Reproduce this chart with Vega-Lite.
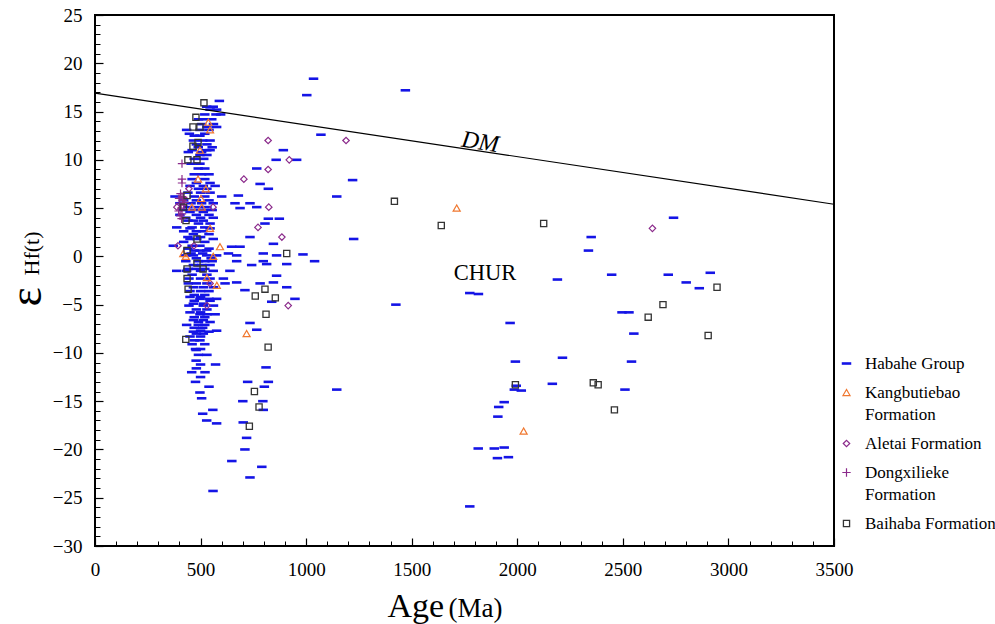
{
  "$schema": "https://vega.github.io/schema/vega-lite/v6.json",
  "width": 739,
  "height": 531,
  "autosize": {"type": "none"},
  "padding": {"left": 95, "top": 15, "right": 161, "bottom": 78},
  "background": "white",
  "config": {
    "font": "Liberation Serif",
    "view": {"stroke": "#000", "strokeWidth": 2},
    "style": {"guide-label": {"lineHeight": 22, "font": "Liberation Serif"}, "guide-title": {"font": "Liberation Serif"}},
    "axis": {"grid": false, "domain": false, "tickColor": "#000", "labelColor": "#000", "titleColor": "#000", "labelFont": "Liberation Serif", "titleFont": "Liberation Serif", "titleFontWeight": "normal"}
  },
  "resolve": {"axis": {"x": "independent", "y": "independent"}},
  "layer": [
    {
      "data": {"values": [
        {"formation":"Habahe Group","age":589,"eps":16.1},{"formation":"Habahe Group","age":529,"eps":15.5},{"formation":"Habahe Group","age":560,"eps":15.5},
        {"formation":"Habahe Group","age":576,"eps":15.2},{"formation":"Habahe Group","age":545,"eps":15.2},{"formation":"Habahe Group","age":573,"eps":14.7},
        {"formation":"Habahe Group","age":595,"eps":14.7},{"formation":"Habahe Group","age":520,"eps":14.7},{"formation":"Habahe Group","age":513,"eps":14.2},
        {"formation":"Habahe Group","age":553,"eps":14.2},{"formation":"Habahe Group","age":490,"eps":14.2},{"formation":"Habahe Group","age":561,"eps":13.7},
        {"formation":"Habahe Group","age":505,"eps":13.7},{"formation":"Habahe Group","age":576,"eps":13.4},{"formation":"Habahe Group","age":530,"eps":13.4},
        {"formation":"Habahe Group","age":434,"eps":13.1},{"formation":"Habahe Group","age":497,"eps":13.1},{"formation":"Habahe Group","age":540,"eps":13.1},
        {"formation":"Habahe Group","age":447,"eps":12.7},{"formation":"Habahe Group","age":520,"eps":12.7},{"formation":"Habahe Group","age":497,"eps":12.5},
        {"formation":"Habahe Group","age":470,"eps":12.5},{"formation":"Habahe Group","age":466,"eps":12.0},{"formation":"Habahe Group","age":510,"eps":12.0},
        {"formation":"Habahe Group","age":545,"eps":12.0},{"formation":"Habahe Group","age":480,"eps":11.6},{"formation":"Habahe Group","age":530,"eps":11.6},
        {"formation":"Habahe Group","age":489,"eps":11.3},{"formation":"Habahe Group","age":555,"eps":11.3},{"formation":"Habahe Group","age":529,"eps":11.0},
        {"formation":"Habahe Group","age":545,"eps":11.0},{"formation":"Habahe Group","age":460,"eps":11.0},{"formation":"Habahe Group","age":442,"eps":10.8},
        {"formation":"Habahe Group","age":505,"eps":10.8},{"formation":"Habahe Group","age":497,"eps":10.5},{"formation":"Habahe Group","age":530,"eps":10.5},
        {"formation":"Habahe Group","age":470,"eps":10.1},{"formation":"Habahe Group","age":515,"eps":10.1},{"formation":"Habahe Group","age":497,"eps":9.6},
        {"formation":"Habahe Group","age":455,"eps":9.6},{"formation":"Habahe Group","age":489,"eps":9.1},{"formation":"Habahe Group","age":520,"eps":9.1},
        {"formation":"Habahe Group","age":505,"eps":8.5},{"formation":"Habahe Group","age":470,"eps":8.5},{"formation":"Habahe Group","age":540,"eps":8.5},
        {"formation":"Habahe Group","age":460,"eps":8.0},{"formation":"Habahe Group","age":520,"eps":8.0},{"formation":"Habahe Group","age":480,"eps":7.6},
        {"formation":"Habahe Group","age":545,"eps":7.6},{"formation":"Habahe Group","age":513,"eps":7.3},{"formation":"Habahe Group","age":569,"eps":7.3},
        {"formation":"Habahe Group","age":450,"eps":7.3},{"formation":"Habahe Group","age":490,"eps":7.0},{"formation":"Habahe Group","age":530,"eps":7.0},
        {"formation":"Habahe Group","age":440,"eps":6.6},{"formation":"Habahe Group","age":500,"eps":6.6},{"formation":"Habahe Group","age":545,"eps":6.6},
        {"formation":"Habahe Group","age":379,"eps":6.2},{"formation":"Habahe Group","age":470,"eps":6.2},{"formation":"Habahe Group","age":520,"eps":6.2},
        {"formation":"Habahe Group","age":600,"eps":6.2},{"formation":"Habahe Group","age":420,"eps":5.8},{"formation":"Habahe Group","age":480,"eps":5.8},
        {"formation":"Habahe Group","age":540,"eps":5.8},{"formation":"Habahe Group","age":402,"eps":5.5},{"formation":"Habahe Group","age":455,"eps":5.5},
        {"formation":"Habahe Group","age":505,"eps":5.5},{"formation":"Habahe Group","age":560,"eps":5.5},{"formation":"Habahe Group","age":440,"eps":5.1},
        {"formation":"Habahe Group","age":490,"eps":5.1},{"formation":"Habahe Group","age":530,"eps":5.1},{"formation":"Habahe Group","age":420,"eps":4.8},
        {"formation":"Habahe Group","age":470,"eps":4.8},{"formation":"Habahe Group","age":515,"eps":4.8},{"formation":"Habahe Group","age":555,"eps":4.8},
        {"formation":"Habahe Group","age":513,"eps":4.6},{"formation":"Habahe Group","age":450,"eps":4.6},{"formation":"Habahe Group","age":402,"eps":4.3},
        {"formation":"Habahe Group","age":480,"eps":4.3},{"formation":"Habahe Group","age":540,"eps":4.3},{"formation":"Habahe Group","age":430,"eps":4.0},
        {"formation":"Habahe Group","age":500,"eps":4.0},{"formation":"Habahe Group","age":560,"eps":4.0},{"formation":"Habahe Group","age":466,"eps":3.7},
        {"formation":"Habahe Group","age":513,"eps":3.7},{"formation":"Habahe Group","age":440,"eps":3.7},{"formation":"Habahe Group","age":490,"eps":3.4},
        {"formation":"Habahe Group","age":545,"eps":3.4},{"formation":"Habahe Group","age":387,"eps":3.0},{"formation":"Habahe Group","age":460,"eps":3.0},
        {"formation":"Habahe Group","age":520,"eps":3.0},{"formation":"Habahe Group","age":450,"eps":2.9},{"formation":"Habahe Group","age":545,"eps":2.9},
        {"formation":"Habahe Group","age":480,"eps":2.6},{"formation":"Habahe Group","age":510,"eps":2.6},{"formation":"Habahe Group","age":420,"eps":2.6},
        {"formation":"Habahe Group","age":466,"eps":2.3},{"formation":"Habahe Group","age":540,"eps":2.3},{"formation":"Habahe Group","age":440,"eps":2.0},
        {"formation":"Habahe Group","age":500,"eps":2.0},{"formation":"Habahe Group","age":450,"eps":1.8},{"formation":"Habahe Group","age":482,"eps":1.8},
        {"formation":"Habahe Group","age":560,"eps":1.8},{"formation":"Habahe Group","age":420,"eps":1.5},{"formation":"Habahe Group","age":520,"eps":1.5},
        {"formation":"Habahe Group","age":371,"eps":1.1},{"formation":"Habahe Group","age":497,"eps":1.1},{"formation":"Habahe Group","age":460,"eps":1.1},
        {"formation":"Habahe Group","age":440,"eps":0.8},{"formation":"Habahe Group","age":540,"eps":0.8},{"formation":"Habahe Group","age":497,"eps":0.6},
        {"formation":"Habahe Group","age":529,"eps":0.6},{"formation":"Habahe Group","age":470,"eps":0.6},{"formation":"Habahe Group","age":455,"eps":0.3},
        {"formation":"Habahe Group","age":510,"eps":0.3},{"formation":"Habahe Group","age":466,"eps":0.1},{"formation":"Habahe Group","age":529,"eps":0.1},
        {"formation":"Habahe Group","age":576,"eps":0.1},{"formation":"Habahe Group","age":430,"eps":0.1},{"formation":"Habahe Group","age":480,"eps":-0.2},
        {"formation":"Habahe Group","age":550,"eps":-0.2},{"formation":"Habahe Group","age":430,"eps":-0.5},{"formation":"Habahe Group","age":490,"eps":-0.5},
        {"formation":"Habahe Group","age":520,"eps":-0.5},{"formation":"Habahe Group","age":555,"eps":-0.5},{"formation":"Habahe Group","age":466,"eps":-0.9},
        {"formation":"Habahe Group","age":505,"eps":-0.9},{"formation":"Habahe Group","age":545,"eps":-0.9},{"formation":"Habahe Group","age":440,"eps":-1.3},
        {"formation":"Habahe Group","age":480,"eps":-1.3},{"formation":"Habahe Group","age":520,"eps":-1.3},{"formation":"Habahe Group","age":387,"eps":-1.5},
        {"formation":"Habahe Group","age":434,"eps":-1.5},{"formation":"Habahe Group","age":500,"eps":-1.5},{"formation":"Habahe Group","age":560,"eps":-1.5},
        {"formation":"Habahe Group","age":460,"eps":-1.9},{"formation":"Habahe Group","age":530,"eps":-1.9},{"formation":"Habahe Group","age":445,"eps":-2.3},
        {"formation":"Habahe Group","age":500,"eps":-2.3},{"formation":"Habahe Group","age":545,"eps":-2.3},{"formation":"Habahe Group","age":442,"eps":-2.8},
        {"formation":"Habahe Group","age":480,"eps":-2.8},{"formation":"Habahe Group","age":530,"eps":-2.8},{"formation":"Habahe Group","age":466,"eps":-3.2},
        {"formation":"Habahe Group","age":513,"eps":-3.2},{"formation":"Habahe Group","age":561,"eps":-3.2},{"formation":"Habahe Group","age":450,"eps":-3.6},
        {"formation":"Habahe Group","age":500,"eps":-3.6},{"formation":"Habahe Group","age":540,"eps":-3.6},{"formation":"Habahe Group","age":470,"eps":-4.0},
        {"formation":"Habahe Group","age":520,"eps":-4.0},{"formation":"Habahe Group","age":450,"eps":-4.2},{"formation":"Habahe Group","age":500,"eps":-4.2},
        {"formation":"Habahe Group","age":497,"eps":-4.4},{"formation":"Habahe Group","age":576,"eps":-4.4},{"formation":"Habahe Group","age":540,"eps":-4.4},
        {"formation":"Habahe Group","age":545,"eps":-4.6},{"formation":"Habahe Group","age":470,"eps":-4.6},{"formation":"Habahe Group","age":466,"eps":-4.9},
        {"formation":"Habahe Group","age":513,"eps":-4.9},{"formation":"Habahe Group","age":513,"eps":-5.1},{"formation":"Habahe Group","age":561,"eps":-5.1},
        {"formation":"Habahe Group","age":445,"eps":-5.1},{"formation":"Habahe Group","age":480,"eps":-5.5},{"formation":"Habahe Group","age":530,"eps":-5.5},
        {"formation":"Habahe Group","age":450,"eps":-5.8},{"formation":"Habahe Group","age":500,"eps":-5.8},{"formation":"Habahe Group","age":497,"eps":-6.0},
        {"formation":"Habahe Group","age":569,"eps":-6.0},{"formation":"Habahe Group","age":530,"eps":-6.0},{"formation":"Habahe Group","age":470,"eps":-6.3},
        {"formation":"Habahe Group","age":520,"eps":-6.3},{"formation":"Habahe Group","age":466,"eps":-6.6},{"formation":"Habahe Group","age":513,"eps":-6.6},
        {"formation":"Habahe Group","age":545,"eps":-6.8},{"formation":"Habahe Group","age":490,"eps":-6.8},{"formation":"Habahe Group","age":434,"eps":-7.1},
        {"formation":"Habahe Group","age":489,"eps":-7.1},{"formation":"Habahe Group","age":520,"eps":-7.1},{"formation":"Habahe Group","age":470,"eps":-7.4},
        {"formation":"Habahe Group","age":510,"eps":-7.4},{"formation":"Habahe Group","age":576,"eps":-7.7},{"formation":"Habahe Group","age":500,"eps":-7.7},
        {"formation":"Habahe Group","age":466,"eps":-7.8},{"formation":"Habahe Group","age":540,"eps":-7.8},{"formation":"Habahe Group","age":513,"eps":-8.0},
        {"formation":"Habahe Group","age":480,"eps":-8.0},{"formation":"Habahe Group","age":450,"eps":-8.3},{"formation":"Habahe Group","age":500,"eps":-8.3},
        {"formation":"Habahe Group","age":497,"eps":-8.7},{"formation":"Habahe Group","age":470,"eps":-8.7},{"formation":"Habahe Group","age":520,"eps":-9.1},
        {"formation":"Habahe Group","age":460,"eps":-9.1},{"formation":"Habahe Group","age":476,"eps":-9.6},{"formation":"Habahe Group","age":500,"eps":-9.6},
        {"formation":"Habahe Group","age":479,"eps":-9.7},{"formation":"Habahe Group","age":490,"eps":-10.2},{"formation":"Habahe Group","age":530,"eps":-10.2},
        {"formation":"Habahe Group","age":479,"eps":-10.8},{"formation":"Habahe Group","age":571,"eps":-11.2},{"formation":"Habahe Group","age":500,"eps":-11.2},
        {"formation":"Habahe Group","age":480,"eps":-11.6},{"formation":"Habahe Group","age":458,"eps":-12.0},{"formation":"Habahe Group","age":521,"eps":-12.0},
        {"formation":"Habahe Group","age":500,"eps":-12.5},{"formation":"Habahe Group","age":476,"eps":-13.0},{"formation":"Habahe Group","age":540,"eps":-13.5},
        {"formation":"Habahe Group","age":497,"eps":-14.1},{"formation":"Habahe Group","age":505,"eps":-14.7},{"formation":"Habahe Group","age":558,"eps":-15.9},
        {"formation":"Habahe Group","age":510,"eps":-16.3},{"formation":"Habahe Group","age":529,"eps":-17.0},{"formation":"Habahe Group","age":576,"eps":-17.3},
        {"formation":"Habahe Group","age":766,"eps":9.1},{"formation":"Habahe Group","age":782,"eps":7.5},{"formation":"Habahe Group","age":821,"eps":7.0},
        {"formation":"Habahe Group","age":892,"eps":11.0},{"formation":"Habahe Group","age":858,"eps":10.0},{"formation":"Habahe Group","age":955,"eps":10.0},
        {"formation":"Habahe Group","age":679,"eps":6.3},{"formation":"Habahe Group","age":663,"eps":5.5},{"formation":"Habahe Group","age":734,"eps":5.5},
        {"formation":"Habahe Group","age":766,"eps":5.1},{"formation":"Habahe Group","age":687,"eps":5.0},{"formation":"Habahe Group","age":821,"eps":3.9},
        {"formation":"Habahe Group","age":873,"eps":3.9},{"formation":"Habahe Group","age":805,"eps":3.4},{"formation":"Habahe Group","age":734,"eps":2.0},
        {"formation":"Habahe Group","age":845,"eps":1.3},{"formation":"Habahe Group","age":647,"eps":1.0},{"formation":"Habahe Group","age":687,"eps":1.0},
        {"formation":"Habahe Group","age":632,"eps":0.3},{"formation":"Habahe Group","age":797,"eps":0.3},{"formation":"Habahe Group","age":671,"eps":0.1},
        {"formation":"Habahe Group","age":860,"eps":0.1},{"formation":"Habahe Group","age":671,"eps":-0.5},{"formation":"Habahe Group","age":797,"eps":-0.5},
        {"formation":"Habahe Group","age":813,"eps":-0.8},{"formation":"Habahe Group","age":908,"eps":-0.8},{"formation":"Habahe Group","age":639,"eps":-1.5},
        {"formation":"Habahe Group","age":742,"eps":-0.9},{"formation":"Habahe Group","age":860,"eps":-2.0},{"formation":"Habahe Group","age":608,"eps":-2.3},
        {"formation":"Habahe Group","age":616,"eps":-2.8},{"formation":"Habahe Group","age":671,"eps":-2.7},{"formation":"Habahe Group","age":782,"eps":-2.8},
        {"formation":"Habahe Group","age":845,"eps":-2.7},{"formation":"Habahe Group","age":710,"eps":-3.5},{"formation":"Habahe Group","age":908,"eps":-3.2},
        {"formation":"Habahe Group","age":947,"eps":-4.4},{"formation":"Habahe Group","age":837,"eps":-4.7},{"formation":"Habahe Group","age":734,"eps":-6.9},
        {"formation":"Habahe Group","age":766,"eps":-7.6},{"formation":"Habahe Group","age":810,"eps":-11.5},{"formation":"Habahe Group","age":723,"eps":-13.0},
        {"formation":"Habahe Group","age":821,"eps":-13.0},{"formation":"Habahe Group","age":802,"eps":-13.5},{"formation":"Habahe Group","age":700,"eps":-15.0},
        {"formation":"Habahe Group","age":795,"eps":-15.0},{"formation":"Habahe Group","age":797,"eps":-15.9},{"formation":"Habahe Group","age":702,"eps":-17.2},
        {"formation":"Habahe Group","age":718,"eps":-18.8},{"formation":"Habahe Group","age":710,"eps":-20.0},{"formation":"Habahe Group","age":648,"eps":-21.2},
        {"formation":"Habahe Group","age":790,"eps":-21.8},{"formation":"Habahe Group","age":734,"eps":-22.9},{"formation":"Habahe Group","age":559,"eps":-24.3},
        {"formation":"Habahe Group","age":985,"eps":0.2},{"formation":"Habahe Group","age":1040,"eps":-0.5},{"formation":"Habahe Group","age":1035,"eps":18.4},
        {"formation":"Habahe Group","age":1003,"eps":16.7},{"formation":"Habahe Group","age":1470,"eps":17.2},{"formation":"Habahe Group","age":1070,"eps":12.6},
        {"formation":"Habahe Group","age":1220,"eps":7.9},{"formation":"Habahe Group","age":1145,"eps":6.2},{"formation":"Habahe Group","age":1225,"eps":1.8},
        {"formation":"Habahe Group","age":1425,"eps":-5.0},{"formation":"Habahe Group","age":1145,"eps":-13.8},{"formation":"Habahe Group","age":2190,"eps":-2.4},
        {"formation":"Habahe Group","age":2447,"eps":-1.9},{"formation":"Habahe Group","age":2715,"eps":-1.9},{"formation":"Habahe Group","age":2914,"eps":-1.7},
        {"formation":"Habahe Group","age":2800,"eps":-2.7},{"formation":"Habahe Group","age":2862,"eps":-3.3},{"formation":"Habahe Group","age":1775,"eps":-3.8},
        {"formation":"Habahe Group","age":1816,"eps":-3.9},{"formation":"Habahe Group","age":2496,"eps":-5.8},{"formation":"Habahe Group","age":2529,"eps":-5.8},
        {"formation":"Habahe Group","age":1966,"eps":-6.9},{"formation":"Habahe Group","age":2552,"eps":-8.0},{"formation":"Habahe Group","age":1991,"eps":-10.9},
        {"formation":"Habahe Group","age":2214,"eps":-10.5},{"formation":"Habahe Group","age":2541,"eps":-10.9},{"formation":"Habahe Group","age":1995,"eps":-13.4},
        {"formation":"Habahe Group","age":2019,"eps":-13.9},{"formation":"Habahe Group","age":1986,"eps":-13.8},{"formation":"Habahe Group","age":2166,"eps":-13.2},
        {"formation":"Habahe Group","age":2510,"eps":-13.8},{"formation":"Habahe Group","age":1938,"eps":-15.1},{"formation":"Habahe Group","age":1912,"eps":-15.6},
        {"formation":"Habahe Group","age":1908,"eps":-16.6},{"formation":"Habahe Group","age":1815,"eps":-19.9},{"formation":"Habahe Group","age":1891,"eps":-19.9},
        {"formation":"Habahe Group","age":1938,"eps":-19.8},{"formation":"Habahe Group","age":1906,"eps":-20.9},{"formation":"Habahe Group","age":1958,"eps":-20.8},
        {"formation":"Habahe Group","age":1775,"eps":-25.9},{"formation":"Habahe Group","age":2740,"eps":4.0},{"formation":"Habahe Group","age":2350,"eps":2.0},
        {"formation":"Habahe Group","age":2337,"eps":0.6},
        {"formation":"Dongxilieke Formation","age":412,"eps":9.6},{"formation":"Dongxilieke Formation","age":412,"eps":8.0},{"formation":"Dongxilieke Formation","age":412,"eps":7.6},
        {"formation":"Dongxilieke Formation","age":412,"eps":6.2},{"formation":"Dongxilieke Formation","age":405,"eps":6.5},{"formation":"Dongxilieke Formation","age":398,"eps":6.0},
        {"formation":"Dongxilieke Formation","age":415,"eps":5.8},{"formation":"Dongxilieke Formation","age":402,"eps":5.5},{"formation":"Dongxilieke Formation","age":420,"eps":5.3},
        {"formation":"Dongxilieke Formation","age":408,"eps":5.0},{"formation":"Dongxilieke Formation","age":396,"eps":4.7},{"formation":"Dongxilieke Formation","age":412,"eps":4.4},
        {"formation":"Dongxilieke Formation","age":425,"eps":5.6},{"formation":"Dongxilieke Formation","age":403,"eps":4.2},{"formation":"Dongxilieke Formation","age":418,"eps":6.1},
        {"formation":"Dongxilieke Formation","age":410,"eps":3.9},
        {"formation":"Aletai Formation","age":820,"eps":12.0},{"formation":"Aletai Formation","age":1189,"eps":12.0},{"formation":"Aletai Formation","age":920,"eps":10.0},
        {"formation":"Aletai Formation","age":820,"eps":9.0},{"formation":"Aletai Formation","age":705,"eps":8.0},{"formation":"Aletai Formation","age":445,"eps":7.0},
        {"formation":"Aletai Formation","age":388,"eps":5.1},{"formation":"Aletai Formation","age":559,"eps":5.1},{"formation":"Aletai Formation","age":823,"eps":5.1},
        {"formation":"Aletai Formation","age":772,"eps":3.0},{"formation":"Aletai Formation","age":885,"eps":2.0},{"formation":"Aletai Formation","age":393,"eps":1.1},
        {"formation":"Aletai Formation","age":469,"eps":1.1},{"formation":"Aletai Formation","age":915,"eps":-5.1},{"formation":"Aletai Formation","age":530,"eps":-5.1},
        {"formation":"Aletai Formation","age":545,"eps":-2.8},{"formation":"Aletai Formation","age":2640,"eps":2.9},
        {"formation":"Kangbutiebao Formation","age":537,"eps":13.9},{"formation":"Kangbutiebao Formation","age":545,"eps":13.1},{"formation":"Kangbutiebao Formation","age":497,"eps":11.0},
        {"formation":"Kangbutiebao Formation","age":488,"eps":8.0},{"formation":"Kangbutiebao Formation","age":525,"eps":7.0},{"formation":"Kangbutiebao Formation","age":502,"eps":6.0},
        {"formation":"Kangbutiebao Formation","age":459,"eps":5.1},{"formation":"Kangbutiebao Formation","age":506,"eps":5.1},{"formation":"Kangbutiebao Formation","age":545,"eps":2.9},
        {"formation":"Kangbutiebao Formation","age":592,"eps":1.0},{"formation":"Kangbutiebao Formation","age":418,"eps":0.3},{"formation":"Kangbutiebao Formation","age":430,"eps":0.0},
        {"formation":"Kangbutiebao Formation","age":560,"eps":0.0},{"formation":"Kangbutiebao Formation","age":530,"eps":-2.2},{"formation":"Kangbutiebao Formation","age":577,"eps":-3.0},
        {"formation":"Kangbutiebao Formation","age":718,"eps":-8.0},{"formation":"Kangbutiebao Formation","age":1713,"eps":5.0},{"formation":"Kangbutiebao Formation","age":2030,"eps":-18.1},
        {"formation":"Baihaba Formation","age":516,"eps":15.9},{"formation":"Baihaba Formation","age":478,"eps":14.4},{"formation":"Baihaba Formation","age":464,"eps":13.4},
        {"formation":"Baihaba Formation","age":497,"eps":13.4},{"formation":"Baihaba Formation","age":488,"eps":11.8},{"formation":"Baihaba Formation","age":464,"eps":11.4},
        {"formation":"Baihaba Formation","age":440,"eps":10.0},{"formation":"Baihaba Formation","age":483,"eps":10.0},{"formation":"Baihaba Formation","age":436,"eps":6.3},
        {"formation":"Baihaba Formation","age":418,"eps":5.1},{"formation":"Baihaba Formation","age":431,"eps":3.7},{"formation":"Baihaba Formation","age":483,"eps":1.8},
        {"formation":"Baihaba Formation","age":436,"eps":0.6},{"formation":"Baihaba Formation","age":908,"eps":0.3},{"formation":"Baihaba Formation","age":436,"eps":-1.3},
        {"formation":"Baihaba Formation","age":483,"eps":-0.7},{"formation":"Baihaba Formation","age":512,"eps":-1.3},{"formation":"Baihaba Formation","age":436,"eps":-2.3},
        {"formation":"Baihaba Formation","age":441,"eps":-3.4},{"formation":"Baihaba Formation","age":805,"eps":-3.4},{"formation":"Baihaba Formation","age":759,"eps":-4.1},
        {"formation":"Baihaba Formation","age":854,"eps":-4.3},{"formation":"Baihaba Formation","age":810,"eps":-6.0},{"formation":"Baihaba Formation","age":430,"eps":-8.6},
        {"formation":"Baihaba Formation","age":820,"eps":-9.4},{"formation":"Baihaba Formation","age":755,"eps":-14.0},{"formation":"Baihaba Formation","age":777,"eps":-15.6},
        {"formation":"Baihaba Formation","age":731,"eps":-17.6},{"formation":"Baihaba Formation","age":1418,"eps":5.7},{"formation":"Baihaba Formation","age":1640,"eps":3.2},
        {"formation":"Baihaba Formation","age":2125,"eps":3.4},{"formation":"Baihaba Formation","age":2946,"eps":-3.2},{"formation":"Baihaba Formation","age":2690,"eps":-5.0},
        {"formation":"Baihaba Formation","age":2620,"eps":-6.3},{"formation":"Baihaba Formation","age":2904,"eps":-8.2},{"formation":"Baihaba Formation","age":1991,"eps":-13.3},
        {"formation":"Baihaba Formation","age":2360,"eps":-13.1},{"formation":"Baihaba Formation","age":2383,"eps":-13.3},{"formation":"Baihaba Formation","age":2460,"eps":-15.9}
      ]},
      "mark": {"type": "point", "filled": false, "opacity": 1},
      "encoding": {
        "x": {"field": "age", "type": "quantitative",
          "scale": {"domain": [0, 3500], "nice": false, "zero": false},
          "axis": {"values": [0, 500, 1000, 1500, 2000, 2500, 3000, 3500], "format": "d", "offset": -8, "tickSize": 8, "tickWidth": 1.2,
            "labelFontSize": 19, "labelFont": "Liberation Serif", "labelPadding": 14, "labelFlush": false, "labelOverlap": false,
            "title": "Age", "titleFontSize": 34, "titleX": 292, "titleY": 78, "titleAlign": "left", "titleBaseline": "alphabetic", "titleAngle": 0}},
        "y": {"field": "eps", "type": "quantitative",
          "scale": {"domain": [-30, 25], "nice": false, "zero": false},
          "axis": {"values": [-30, -25, -20, -15, -10, -5, 0, 5, 10, 15, 20, 25], "format": "d", "offset": -8, "tickSize": 8, "tickWidth": 1.2,
            "labelFontSize": 19, "labelFont": "Liberation Serif", "labelPadding": 13, "labelFlush": false, "labelOverlap": false,
            "title": "ε", "titleFontSize": 46, "titleX": -63, "titleY": 291, "titleAlign": "left", "titleBaseline": "alphabetic", "titleAngle": 270}},
        "color": {"field": "formation", "type": "nominal",
          "scale": {"domain": ["Habahe Group", "Kangbutiebao Formation", "Aletai Formation", "Dongxilieke Formation", "Baihaba Formation"],
            "range": ["#1414e6", "#f07830", "#8b2a8b", "#8b2a8b", "#333333"]},
          "legend": {"orient": "none", "legendX": 743, "legendY": 340, "title": null, "labelFont": "Liberation Serif", "labelFontSize": 17, "labelColor": "#000", "labelLimit": 200, "labelOffset": 10, "rowPadding": 11,
            "labelExpr": "datum.label == 'Kangbutiebao Formation' ? ['Kangbutiebao', 'Formation'] : datum.label == 'Dongxilieke Formation' ? ['Dongxilieke', 'Formation'] : datum.label"}},
        "shape": {"field": "formation", "type": "nominal",
          "scale": {"domain": ["Habahe Group", "Kangbutiebao Formation", "Aletai Formation", "Dongxilieke Formation", "Baihaba Formation"],
            "range": ["M-1,0H1", "triangle-up", "diamond", "M-1,0H1M0,-1V1", "square"]}},
        "size": {"field": "formation", "type": "ordinal",
          "scale": {"type": "ordinal", "domain": ["Habahe Group", "Kangbutiebao Formation", "Aletai Formation", "Dongxilieke Formation", "Baihaba Formation"],
            "range": [90, 50, 42, 70, 38]}},
        "strokeWidth": {"field": "formation", "type": "ordinal",
          "scale": {"type": "ordinal", "domain": ["Habahe Group", "Kangbutiebao Formation", "Aletai Formation", "Dongxilieke Formation", "Baihaba Formation"],
            "range": [2.6, 1.2, 1.2, 1.2, 1.3]}}
      }
    },
    {
      "data": {"values": [{"age": 0, "eps": 16.9}, {"age": 3500, "eps": 5.4}]},
      "mark": {"type": "line", "color": "#000", "strokeWidth": 1.2},
      "encoding": {
        "x": {"field": "age", "type": "quantitative",
          "axis": {"orient": "bottom", "values": [0,100,200,300,400,500,600,700,800,900,1000,1100,1200,1300,1400,1500,1600,1700,1800,1900,2000,2100,2200,2300,2400,2500,2600,2700,2800,2900,3000,3100,3200,3300,3400,3500],
            "offset": -5, "tickSize": 5, "tickWidth": 1, "labels": false,
            "title": "(Ma)", "titleFontSize": 27, "titleX": 353, "titleY": 75, "titleAlign": "left", "titleBaseline": "alphabetic", "titleAngle": 0}},
        "y": {"field": "eps", "type": "quantitative",
          "axis": {"orient": "left", "values": [-30,-29,-28,-27,-26,-25,-24,-23,-22,-21,-20,-19,-18,-17,-16,-15,-14,-13,-12,-11,-10,-9,-8,-7,-6,-5,-4,-3,-2,-1,0,1,2,3,4,5,6,7,8,9,10,11,12,13,14,15,16,17,18,19,20,21,22,23,24,25],
            "offset": -5, "tickSize": 5, "tickWidth": 1, "labels": false,
            "title": "Hf(t)", "titleFontSize": 22, "titleX": -62, "titleY": 260, "titleAlign": "left", "titleBaseline": "alphabetic", "titleAngle": 270}}
      }
    },
    {
      "mark": {"type": "rule", "color": "#000", "strokeWidth": 1.3},
      "encoding": {"y": {"datum": 0, "axis": null}}
    },
    {
      "data": {"values": [{"age": 1824, "eps": 11.8, "label": "DM"}]},
      "mark": {"type": "text", "fontSize": 24, "fontStyle": "italic", "font": "Liberation Serif", "angle": 8.5, "color": "#000"},
      "encoding": {
        "x": {"field": "age", "type": "quantitative", "axis": null},
        "y": {"field": "eps", "type": "quantitative", "axis": null},
        "text": {"field": "label"}
      }
    },
    {
      "data": {"values": [{"age": 1847, "eps": -1.7, "label": "CHUR"}]},
      "mark": {"type": "text", "fontSize": 22.5, "font": "Liberation Serif", "color": "#000"},
      "encoding": {
        "x": {"field": "age", "type": "quantitative", "axis": null},
        "y": {"field": "eps", "type": "quantitative", "axis": null},
        "text": {"field": "label"}
      }
    }
  ]
}
